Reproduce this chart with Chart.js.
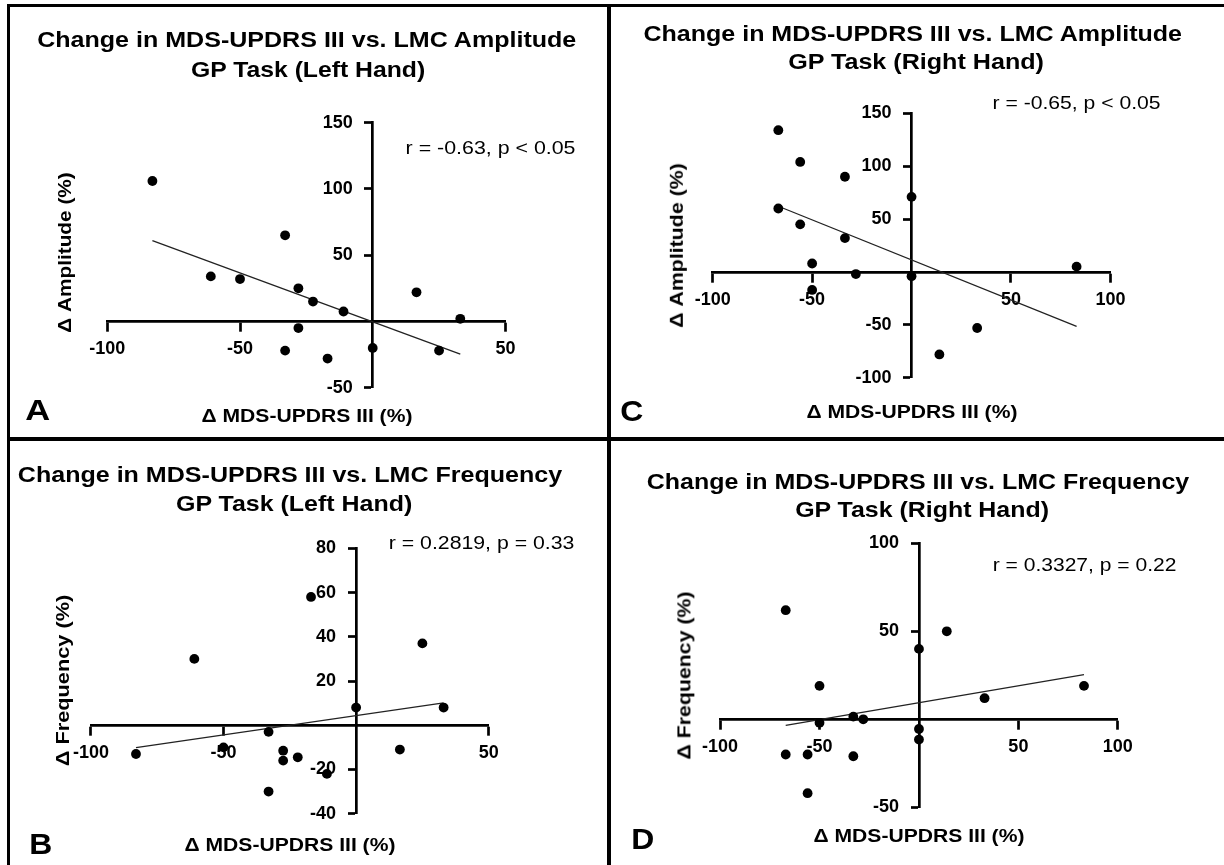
<!DOCTYPE html>
<html>
<head>
<meta charset="utf-8">
<script src="https://cdn.jsdelivr.net/npm/chart.js@4/dist/chart.umd.min.js"></script>
<style>
html,body{margin:0;padding:0;background:#fff;}
#page{position:relative;width:1224px;height:865px;overflow:hidden;background:#fff;font-family:"Liberation Sans",Arial,Helvetica,sans-serif;color:#000;}
.rule{position:absolute;background:#000;}
.txt{position:absolute;white-space:nowrap;line-height:1;transform-origin:50% 50%;}
canvas{position:absolute;}
</style>
</head>
<body>
<div id="page"></div>
<script>
// ---------------- DATA ----------------
// Panel A: Δ MDS-UPDRS III vs Δ Amplitude, left hand
const ampLeftX = [-83, -61, -50, -33, -28, -22.5, -11, -28, -33, -17, 0, 16.5, 25, 33];
const ampLeftY = [106, 34, 32, 65, 25, 15, 7.5, -5, -22, -28, -20, 22, -22, 2];
// Panel C: Δ MDS-UPDRS III vs Δ Amplitude, right hand
const ampRightX = [-67, -56, -33.5, 0, -67, -56, -33.5, -50, -28, 0, -50, 83, 33, 14];
const ampRightY = [134, 104, 90, 71, 60, 45, 32, 8, -2, -4, -17, 5, -53, -78];
// Panel B: Δ MDS-UPDRS III vs Δ Frequency, left hand
const freqLeftX = [-17, -61, 25, 0, 33, -33, -83, -50, -27.5, -27.5, -22, 16.5, -11, -33];
const freqLeftY = [58, 30, 37, 8, 8, -3, -13, -10, -11.5, -16, -14.5, -11, -22, -30];
// Panel D: Δ MDS-UPDRS III vs Δ Frequency, right hand
const freqRightX = [-67, 14, 0, -50, 83, 33, -33, -28, -50, 0, 0, -67, -56, -33, -56];
const freqRightY = [62, 50, 40, 19, 19, 12, 1.5, 0, -2, -5.5, -11.5, -20, -20, -21, -42];

// axis ranges [min, max, step]
const xRangeLeft = [-100, 50, 50];
const xRangeRight = [-100, 100, 50];
const yRangeAmpLeft = [-50, 150, 50];
const yRangeAmpRight = [-100, 150, 50];
const yRangeFreqLeft = [-40, 80, 20];
const yRangeFreqRight = [-50, 100, 50];

// texts
const titlesA = ['Change in MDS-UPDRS III vs. LMC Amplitude', 'GP Task (Left Hand)'];
const titlesC = ['Change in MDS-UPDRS III vs. LMC Amplitude', 'GP Task (Right Hand)'];
const titlesB = ['Change in MDS-UPDRS III vs. LMC Frequency', 'GP Task (Left Hand)'];
const titlesD = ['Change in MDS-UPDRS III vs. LMC Frequency', 'GP Task (Right Hand)'];
const statsA = 'r = -0.63, p < 0.05';
const statsC = 'r = -0.65, p < 0.05';
const statsB = 'r = 0.2819, p = 0.33';
const statsD = 'r = 0.3327, p = 0.22';
const xTitle = 'Δ MDS-UPDRS III (%)';
const yTitleAmp = 'Δ Amplitude (%)';
const yTitleFreq = 'Δ Frequency (%)';
const panelLetters = ['A', 'C', 'B', 'D'];

// ---------------- LAYOUT ----------------
const FONT = '"Liberation Sans", Arial, Helvetica, sans-serif';
const page = document.getElementById('page');

function rule(l, t, w, h) {
  const d = document.createElement('div');
  d.className = 'rule';
  d.style.left = l + 'px'; d.style.top = t + 'px';
  d.style.width = w + 'px'; d.style.height = h + 'px';
  page.appendChild(d);
}
rule(7, 3.5, 1217, 3);      // top frame
rule(7, 3.5, 3, 861.5);     // left frame
rule(607, 3.5, 3.6, 861.5); // vertical divider
rule(7, 437.2, 1217, 3.6);  // horizontal divider

function addText(str, o) {
  const el = document.createElement('div');
  el.className = 'txt';
  el.textContent = str;
  el.style.fontSize = o.size + 'px';
  el.style.fontWeight = o.bold ? '700' : '400';
  page.appendChild(el);
  const w = el.offsetWidth, h = el.offsetHeight;
  const k = o.width ? o.width / w : 1;
  if (o.rotate) {
    el.style.left = (o.cx - w / 2) + 'px';
    el.style.top = (o.cy - h / 2) + 'px';
    el.style.transform = 'rotate(-90deg) scaleX(' + k + ')';
  } else {
    el.style.left = (o.cx - w / 2) + 'px';
    el.style.top = (o.capTop - 0.13 * o.size) + 'px';
    el.style.transform = 'scaleX(' + k + ')';
  }
}

function fitLine(xs, ys) {
  const n = xs.length;
  const mx = xs.reduce((a, b) => a + b, 0) / n;
  const my = ys.reduce((a, b) => a + b, 0) / n;
  let sxy = 0, sxx = 0;
  for (let i = 0; i < n; i++) { sxy += (xs[i] - mx) * (ys[i] - my); sxx += (xs[i] - mx) ** 2; }
  const slope = sxy / sxx, icpt = my - slope * mx;
  const x0 = Math.min(...xs), x1 = Math.max(...xs);
  return [{x: x0, y: icpt + slope * x0}, {x: x1, y: icpt + slope * x1}];
}

const panels = [
  { canvas: [10, 7, 597, 430], area: [107.3, 122.7, 505.4, 387.7], xs: ampLeftX, ys: ampLeftY, xr: xRangeLeft, yr: yRangeAmpLeft,
    titles: titlesA, t1: [306.4, 31.9, 538.6], t2: [308.3, 61.7, 234], stats: statsA, st: [490.8, 141.7, 169.8],
    yTitle: yTitleAmp, yt: [64.5, 252, 161], xt: [306.5, 408.5, 211], letter: [38, 398.5, 25.3] },
  { canvas: [611, 7, 613, 430], area: [712.7, 113.3, 1110.4, 377.7], xs: ampRightX, ys: ampRightY, xr: xRangeRight, yr: yRangeAmpRight,
    titles: titlesC, t1: [912.2, 25.5, 538], t2: [915.5, 54, 255.7], stats: statsC, st: [1076.5, 96.7, 167.9],
    yTitle: yTitleAmp, yt: [676.5, 245.8, 165], xt: [911.5, 404, 211], letter: [631.5, 400, 23.4] },
  { canvas: [10, 441, 597, 424], area: [90.9, 548.3, 488.7, 813.7], xs: freqLeftX, ys: freqLeftY, xr: xRangeLeft, yr: yRangeFreqLeft,
    titles: titlesB, t1: [289.8, 467, 544.4], t2: [293.7, 495.5, 236], stats: statsB, st: [481, 536.7, 185.4],
    yTitle: yTitleFreq, yt: [62.5, 680.8, 171.7], xt: [289.8, 837, 211], letter: [41, 833.3, 23.4] },
  { canvas: [611, 441, 613, 424], area: [720.1, 543.3, 1117.8, 807.3], xs: freqRightX, ys: freqRightY, xr: xRangeRight, yr: yRangeFreqRight,
    titles: titlesD, t1: [918.4, 473.8, 542.5], t2: [922.3, 502.2, 253.7], stats: statsD, st: [1084.2, 558.3, 183.5],
    yTitle: yTitleFreq, yt: [684, 675.8, 168.3], xt: [919.4, 828.5, 211], letter: [643.2, 828.3, 23.4] }
];

const tickFont = {family: FONT, size: 18, weight: 'bold'};
const Y_LABEL_GAP = '    '; // keeps y tick labels clear of the centred axis line

panels.forEach((p, idx) => {
  const [cl, ct, cw, ch] = p.canvas;
  const [al, at, ar, ab] = p.area;
  const cv = document.createElement('canvas');
  cv.width = cw; cv.height = ch;
  cv.style.left = cl + 'px'; cv.style.top = ct + 'px';
  cv.style.width = cw + 'px'; cv.style.height = ch + 'px';
  page.appendChild(cv);

  const pts = p.xs.map((x, i) => ({x: x, y: p.ys[i]}));
  new Chart(cv.getContext('2d'), {
    type: 'scatter',
    data: {
      datasets: [
        { data: fitLine(p.xs, p.ys), showLine: true, borderColor: '#222', borderWidth: 1.3,
          pointRadius: 0, fill: false, order: 2 },
        { data: pts, pointRadius: 4.9, pointHoverRadius: 4.9, backgroundColor: '#000',
          borderWidth: 0, order: 1 }
      ]
    },
    options: {
      responsive: false,
      animation: false,
      devicePixelRatio: 1,
      events: [],
      layout: { padding: { left: al - cl, top: at - ct, right: (cl + cw) - ar, bottom: (ct + ch) - ab } },
      plugins: { legend: { display: false }, tooltip: { enabled: false }, title: { display: false } },
      scales: {
        x: {
          type: 'linear', position: { y: 0 }, min: p.xr[0], max: p.xr[1],
          ticks: { stepSize: p.xr[2], autoSkip: false, maxRotation: 0, color: '#000', font: tickFont, padding: 8,
                   callback: v => (v === 0 ? null : String(v)) },
          grid: { drawOnChartArea: false, drawTicks: true, tickLength: 9, tickWidth: 2.7, tickColor: '#000' },
          border: { display: true, color: '#000', width: 2.7 }
        },
        y: {
          type: 'linear', position: { x: 0 }, min: p.yr[0], max: p.yr[1],
          ticks: { stepSize: p.yr[2], autoSkip: false, color: '#000', font: tickFont, padding: 6,
                   callback: v => (v === 0 ? null : String(v) + Y_LABEL_GAP) },
          grid: { drawOnChartArea: false, drawTicks: true, tickLength: 7, tickWidth: 2.7, tickColor: '#000' },
          border: { display: true, color: '#000', width: 2.7 }
        }
      }
    }
  });

  addText(p.titles[0], {cx: p.t1[0], capTop: p.t1[1], width: p.t1[2], size: 22, bold: true});
  addText(p.titles[1], {cx: p.t2[0], capTop: p.t2[1], width: p.t2[2], size: 22, bold: true});
  addText(p.stats, {cx: p.st[0], capTop: p.st[1], width: p.st[2], size: 18, bold: false});
  addText(xTitle, {cx: p.xt[0], capTop: p.xt[1], width: p.xt[2], size: 19, bold: true});
  addText(p.yTitle, {cx: p.yt[0], cy: p.yt[1], width: p.yt[2], size: 19, bold: true, rotate: true});
  addText(panelLetters[idx], {cx: p.letter[0], capTop: p.letter[1], width: p.letter[2], size: 30, bold: true});
});
</script>
</body>
</html>
